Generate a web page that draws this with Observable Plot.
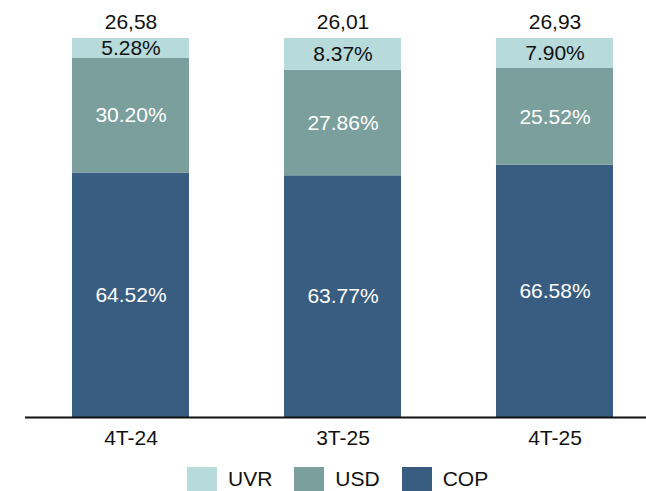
<!DOCTYPE html>
<html>
<head>
<meta charset="utf-8">
<script src="https://cdn.jsdelivr.net/npm/d3@7"></script>
<script src="https://cdn.jsdelivr.net/npm/@observablehq/plot@0.6"></script>
<style>
  html, body { margin: 0; padding: 0; background: #fff; }
  body { width: 646px; height: 491px; position: relative; overflow: hidden; font-family: "Liberation Sans", Arial, sans-serif; }
  #legend { position: absolute; top: 467px; left: 187px; display: flex; align-items: center; font-size: 21px; color: #111; line-height: 24px; }
  #legend .item { display: flex; align-items: center; margin-right: 22px; }
  #legend .sw { width: 30px; height: 24px; margin-right: 11px; }
</style>
</head>
<body>
<div id="chart"></div>
<div id="legend"></div>
<script>
const periods = ["4T-24", "3T-25", "4T-25"];
const totals = ["26,58", "26,01", "26,93"];
const seriesNames = ["COP", "USD", "UVR"];
const copValues = [64.52, 63.77, 66.58];
const usdValues = [30.20, 27.86, 25.52];
const uvrValues = [5.28, 8.37, 7.90];
const colors = { UVR: "#b7dadb", USD: "#7b9f9c", COP: "#395d80" };
const labelColors = { UVR: "#111", USD: "#fff", COP: "#fff" };

const valuesBySeries = { COP: copValues, USD: usdValues, UVR: uvrValues };
const rows = [];
periods.forEach((p, i) => {
  seriesNames.forEach(s => rows.push({ period: p, series: s, value: valuesBySeries[s][i] }));
});
const totalRows = periods.map((p, i) => ({ period: p, total: totals[i] }));

const stackOpts = { x: "period", y: "value", z: "series", order: seriesNames };

const chart = Plot.plot({
  width: 646,
  height: 456,
  marginTop: 38,
  marginBottom: 39,
  marginLeft: 25,
  marginRight: 0,
  style: { fontFamily: "Liberation Sans, Arial, sans-serif", fontSize: "21px", color: "#111", background: "#fff" },
  x: { domain: periods, range: [-23, 708], padding: 0.448, label: null },
  y: { domain: [0, 100], axis: null },
  marks: [
    Plot.barY(rows, Plot.stackY({ ...stackOpts, fill: d => colors[d.series] })),
    Plot.text(rows, Plot.stackY({ ...stackOpts, y: "value", text: d => d.value.toFixed(2) + "%", fill: d => labelColors[d.series], fontSize: 21 })),
    Plot.text(totalRows, { x: "period", y: () => 100, text: "total", dy: -16, fontSize: 21, fill: "#111" }),
    Plot.ruleY([0], { stroke: "#111", strokeWidth: 2 }),
    Plot.axisX({ tickSize: 0, tickPadding: 13, fontSize: 21, label: null })
  ]
});
document.getElementById("chart").appendChild(chart);

const legendNames = ["UVR", "USD", "COP"];
const legend = document.getElementById("legend");
legendNames.forEach(n => {
  const item = document.createElement("div");
  item.className = "item";
  const sw = document.createElement("div");
  sw.className = "sw";
  sw.style.background = colors[n];
  const t = document.createElement("span");
  t.textContent = n;
  item.appendChild(sw);
  item.appendChild(t);
  legend.appendChild(item);
});
</script>
</body>
</html>
